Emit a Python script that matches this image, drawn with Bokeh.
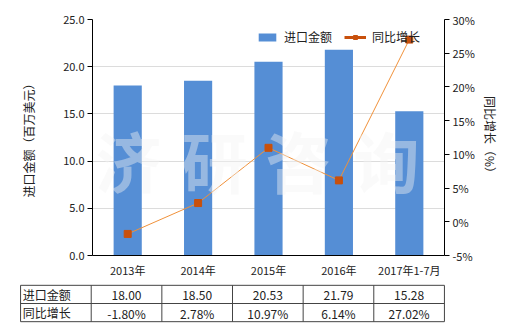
from bokeh.plotting import figure
from bokeh.models import (Range1d, LinearAxis, FixedTicker, NumeralTickFormatter,
                          PrintfTickFormatter, Legend, LegendItem, Label, FactorRange,
                          ColumnDataSource)
from bokeh.layouts import column, row
from bokeh.embed import file_html
from bokeh.resources import INLINE
from bokeh.core.properties import value

categories = ["2013年", "2014年", "2015年", "2016年", "2017年1-7月"]
import_value = [18.00, 18.50, 20.53, 21.79, 15.28]
growth_pct = [-1.80, 2.78, 10.97, 6.14, 27.02]
y_ticks = [0, 5, 10, 15, 20, 25]
pct_ticks = [-5, 0, 5, 10, 15, 20, 25, 30]
series_names = ["进口金额", "同比增长"]
watermark = ["济", "研", "咨", "询"]

FONT = "Noto Sans CJK SC"
TXT = "#222222"
BAR = "#558ed5"
LINE = "#f0913a"
MARK = "#c8500c"

p = figure(width=520, height=280, x_range=FactorRange(*categories),
           y_range=Range1d(0, 25), output_backend="svg", toolbar_location=None,
           min_border_left=92, min_border_right=76, min_border_top=19,
           min_border_bottom=21)
p.outline_line_color = None
p.background_fill_color = "white"
p.extra_y_ranges = {"pct": Range1d(-5, 30)}

src = ColumnDataSource(dict(cat=categories, val=import_value, pct=growth_pct))
bars = p.vbar(x="cat", top="val", width=0.4, source=src, color=BAR, line_color=None)

# watermark
for i, ch in enumerate(watermark):
    p.add_layout(Label(x=[36, 122, 206, 294][i], y=97, x_units="screen", y_units="screen",
                       text=ch, text_font=FONT, text_font_size="66px",
                       text_font_style="bold", text_color="#f2f2f2", text_alpha=0.42,
                       text_align="center", text_baseline="middle", level="glyph"))

ln = p.line(x="cat", y="pct", source=src, y_range_name="pct", color=LINE, line_width=1)
mk = p.scatter(x="cat", y="pct", source=src, y_range_name="pct", marker="square",
               size=7, color=MARK, line_color=MARK)
# legend proxy: a one-point line draws nothing on the plot, only its legend swatch
leg_line = p.line(x=categories[:1], y=growth_pct[:1], y_range_name="pct",
                  color=MARK, line_width=3)

p.yaxis.ticker = FixedTicker(ticks=y_ticks)
p.yaxis.formatter = NumeralTickFormatter(format="0.0")
p.yaxis.axis_label = "进口金额（百万美元）"
p.yaxis.axis_label_standoff = 23
p.ygrid.ticker = FixedTicker(ticks=y_ticks)
p.ygrid.grid_line_color = "#dcdcdc"
p.xgrid.grid_line_color = None

ra = LinearAxis(y_range_name="pct", ticker=FixedTicker(ticks=pct_ticks),
                formatter=PrintfTickFormatter(format="%d%%"),
                axis_label="同比增长（%）")
p.add_layout(ra, "right")
ra.axis_label_standoff = 4

for ax in [p.yaxis[0], ra, p.xaxis[0]]:
    ax.axis_line_color = "black"
    ax.major_tick_line_color = "black"
    ax.minor_tick_line_color = None
    ax.major_tick_in = 0
    ax.major_tick_out = 5
    ax.major_label_text_font = FONT
    ax.major_label_text_font_size = "11px"
    ax.major_label_text_color = TXT
    ax.axis_label_text_font = FONT
    ax.axis_label_text_font_size = "12px"
    ax.axis_label_text_font_style = "normal"
    ax.axis_label_text_color = TXT
p.yaxis[0].major_label_standoff = 3
ra.major_label_standoff = 3
p.xaxis.major_tick_out = 0
p.xaxis.major_label_standoff = 6

legend = Legend(items=[LegendItem(label=series_names[0], renderers=[bars]),
                       LegendItem(label=series_names[1], renderers=[leg_line, mk])],
                orientation="horizontal", location=(164, 210),
                border_line_color=None, background_fill_alpha=0,
                label_text_font=FONT, label_text_font_size="12px",
                label_text_color=TXT, glyph_width=22, glyph_height=10,
                spacing=12, padding=2, margin=0, label_standoff=6)
p.add_layout(legend, "center")

# table
t = figure(width=520, height=50, x_range=Range1d(-1.6, 4.6), y_range=Range1d(-0.1, 2.1),
           output_backend="svg", toolbar_location=None,
           x_axis_location=None, y_axis_location=None,
           min_border_left=13, min_border_right=69, min_border_top=3, min_border_bottom=7)
t.grid.visible = False
t.outline_line_color = None
n = len(categories)
t.segment(x0=[-1.5] * 3, x1=[n - 0.5] * 3, y0=[0, 1, 2], y1=[0, 1, 2],
          line_color="#444444", line_width=1)
t.segment(x0=[k - 0.5 for k in range(-1, n + 1)], x1=[k - 0.5 for k in range(-1, n + 1)],
          y0=[0] * (n + 2), y1=[2] * (n + 2), line_color="#444444", line_width=1)
t.text(x=[-1.47, -1.47], y=[1.5, 0.5], text=series_names, text_font=value(FONT),
       text_font_size="12px", text_color=TXT, text_baseline="middle", text_align="left")
t.text(x=list(range(n)), y=[1.45] * n, text=["%.2f" % v for v in import_value],
       text_font=value(FONT), text_font_size="12px", text_color=TXT,
       text_baseline="middle", text_align="center")
t.text(x=list(range(n)), y=[0.45] * n, text=["%.2f%%" % v for v in growth_pct],
       text_font=value(FONT), text_font_size="12px", text_color=TXT,
       text_baseline="middle", text_align="center")

layout = column(p, row(t), spacing=0)
open("out.html", "w").write(file_html(layout, INLINE))
